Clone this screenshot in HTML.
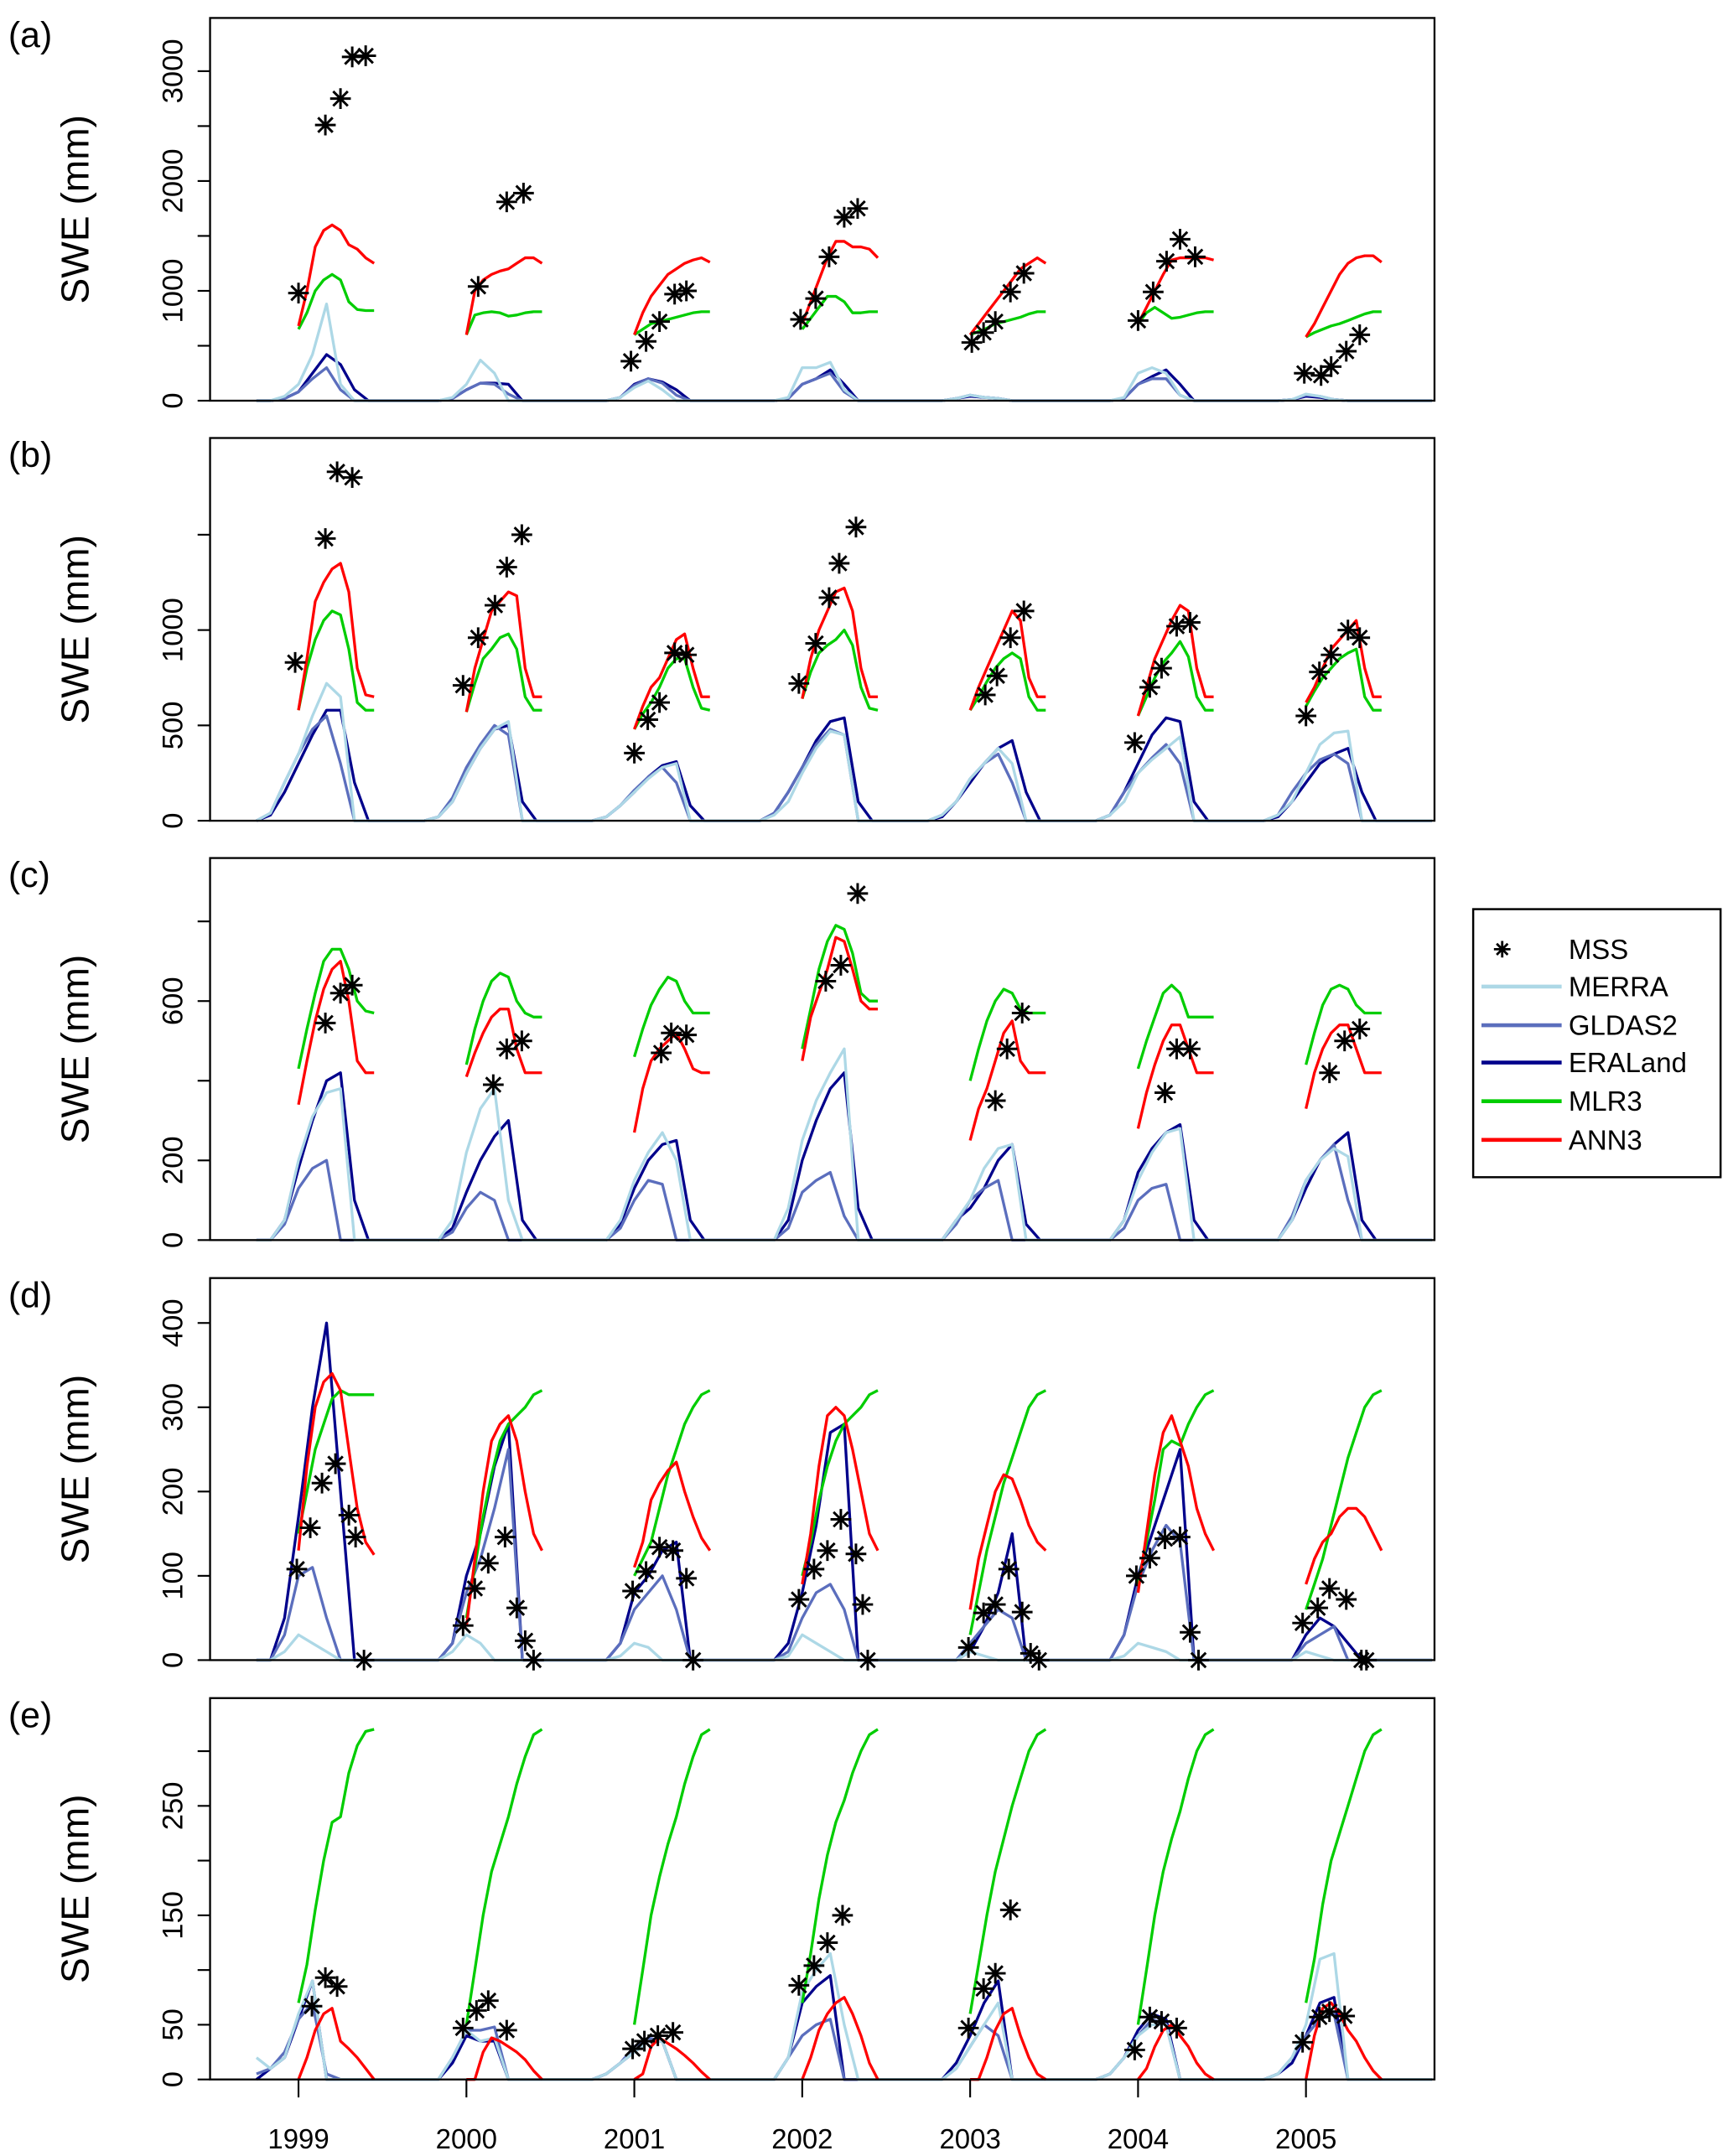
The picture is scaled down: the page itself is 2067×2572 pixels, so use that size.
<!DOCTYPE html>
<html><head><meta charset="utf-8"><style>
html,body{margin:0;padding:0;background:#fff}
svg{display:block}
text{font-family:"Liberation Sans",Arial,sans-serif;fill:#000}
</style></head><body>
<svg id="chart" width="2067" height="2572" viewBox="0 0 1254 1560.4" preserveAspectRatio="none" xmlns="http://www.w3.org/2000/svg">
<g id="legend">
<rect x="1066" y="658" width="179" height="194" fill="#fff" stroke="#000" stroke-width="1.5"/>
<g><path d="M1087,681 v12 M1081,687 h12 M1083,683 l8,8 M1091,683 l-8,8" stroke="#000" stroke-width="1.7"/><text x="1135" y="694" font-size="20">MSS</text></g>
<g><line x1="1072" y1="714" x2="1130" y2="714" stroke="#add8e6" stroke-width="2.8"/><text x="1135" y="721" font-size="20">MERRA</text></g>
<g><line x1="1072" y1="742" x2="1130" y2="742" stroke="#5b6ebd" stroke-width="2.8"/><text x="1135" y="749" font-size="20">GLDAS2</text></g>
<g><line x1="1072" y1="769" x2="1130" y2="769" stroke="#00008b" stroke-width="2.8"/><text x="1135" y="776" font-size="20">ERALand</text></g>
<g><line x1="1072" y1="797" x2="1130" y2="797" stroke="#00cd00" stroke-width="2.8"/><text x="1135" y="804" font-size="20">MLR3</text></g>
<g><line x1="1072" y1="825" x2="1130" y2="825" stroke="#ff0000" stroke-width="2.8"/><text x="1135" y="832" font-size="20">ANN3</text></g>
</g>
</svg>
<script>
// ---- x axis ----
const years = [1999,2000,2001,2002,2003,2004,2005];
const yearLabels = ["1999","2000","2001","2002","2003","2004","2005"];

// ---- panel (a) ----
const a_mss = [[1999.0,980],[1999.16,2510],[1999.25,2750],[1999.32,3130],[1999.4,3140],[2000.07,1040],[2000.24,1810],[2000.34,1890],[2000.98,360],[2001.07,540],[2001.15,720],[2001.24,970],[2001.31,1000],[2001.99,740],[2002.08,930],[2002.16,1310],[2002.25,1670],[2002.33,1750],[2003.01,530],[2003.08,620],[2003.15,720],[2003.24,990],[2003.32,1160],[2004.0,730],[2004.09,990],[2004.17,1270],[2004.25,1470],[2004.34,1310],[2004.99,250],[2005.09,230],[2005.15,310],[2005.24,450],[2005.32,600]];
const a_ann = [[680,1000,1400,1550,1600,1550,1420,1380,1300,1250],[600,1000,1100,1150,1180,1200,1250,1300,1300,1250],[600,800,950,1050,1150,1200,1250,1280,1300,1260],[700,900,1100,1300,1450,1450,1400,1400,1380,1300],[600,700,800,900,1000,1100,1200,1250,1300,1250],[700,850,1000,1150,1280,1300,1300,1300,1300,1280],[580,700,850,1000,1150,1250,1300,1320,1320,1260]];
const a_mlr = [[650,800,1000,1100,1150,1100,900,830,820,820],[600,780,800,810,800,770,780,800,810,810],[600,650,700,720,740,760,780,800,810,810],[650,750,850,950,950,900,800,800,810,810],[600,630,660,700,720,740,760,790,810,810],[700,800,850,800,750,760,780,800,810,810],[580,620,650,680,700,730,760,790,810,810]];
const a_merra = [[0,0,40,150,420,880,150,0,0,0],[0,0,30,150,370,250,0,0,0,0],[0,0,30,120,180,100,0,0,0,0],[0,0,30,300,300,350,100,0,0,0],[0,0,20,50,30,20,0,0,0,0],[0,0,30,250,300,250,50,0,0,0],[0,0,10,60,40,10,0,0,0,0]];
const a_gldas = [[0,0,20,80,200,300,100,0,0,0],[0,0,20,100,160,150,60,0,0,0],[0,0,30,140,200,160,50,0,0,0],[0,0,20,150,200,250,80,0,0,0],[0,0,20,50,30,20,0,0,0,0],[0,0,20,150,200,200,50,0,0,0],[0,0,10,50,40,10,0,0,0,0]];
const a_era = [[0,0,20,80,250,420,330,100,0,0],[0,0,20,100,160,160,150,0,0,0],[0,0,30,150,200,170,100,0,0,0],[0,0,20,150,200,280,150,0,0,0],[0,0,20,40,30,20,0,0,0,0],[0,0,20,150,220,280,150,0,0,0],[0,0,10,40,30,10,0,0,0,0]];

// ---- panel (b) ----
const b_mss = [[1998.98,830],[1999.16,1480],[1999.23,1830],[1999.32,1800],[1999.98,710],[2000.07,960],[2000.17,1130],[2000.24,1330],[2000.33,1500],[2001.0,355],[2001.08,530],[2001.15,620],[2001.24,880],[2001.31,870],[2001.98,720],[2002.08,930],[2002.16,1170],[2002.22,1350],[2002.32,1540],[2003.09,660],[2003.16,760],[2003.24,960],[2003.32,1100],[2003.98,410],[2004.07,700],[2004.14,800],[2004.23,1020],[2004.31,1040],[2005.0,550],[2005.08,780],[2005.15,870],[2005.25,1000],[2005.32,960]];
const b_ann = [[580,850,1150,1250,1320,1350,1200,800,660,650],[570,800,950,1100,1150,1200,1180,800,650,650],[480,600,700,750,850,950,980,800,650,650],[640,850,1000,1100,1200,1220,1100,800,650,650],[580,700,800,900,1000,1100,1050,750,650,650],[550,700,850,950,1050,1130,1100,800,650,650],[620,700,800,900,950,1000,1050,800,650,650]];
const b_mlr = [[580,800,950,1050,1100,1080,900,620,580,580],[570,720,850,900,960,980,900,650,580,580],[480,560,620,700,800,850,850,700,590,580],[640,780,880,920,950,1000,920,700,590,580],[580,650,730,800,850,880,850,650,580,580],[550,650,750,830,880,940,860,650,580,580],[600,680,750,800,850,880,900,650,580,580]];
const b_merra = [[0,40,200,350,550,720,650,0,0,0],[0,20,100,250,380,480,520,0,0,0],[0,20,80,150,220,280,300,0,0,0],[0,30,100,250,380,470,450,0,0,0],[0,30,100,220,300,380,300,0,0,0],[0,30,100,250,320,380,440,0,0,0],[0,30,100,250,400,460,470,0,0,0]];
const b_gldas = [[0,40,200,350,480,550,300,0,0,0],[0,20,120,280,400,500,450,0,0,0],[0,20,80,160,230,280,200,0,0,0],[0,40,150,280,400,480,450,0,0,0],[0,30,100,220,300,350,200,0,0,0],[0,30,150,250,330,400,300,0,0,0],[0,30,150,250,320,350,300,0,0,0]];
const b_era = [[0,30,150,300,450,580,580,200,0,0],[0,20,100,250,380,480,500,100,0,0],[0,20,80,150,230,290,310,80,0,0],[0,40,150,280,420,520,540,100,0,0],[0,20,100,200,300,380,420,150,0,0],[0,30,150,300,450,540,520,100,0,0],[0,20,100,200,300,350,380,150,0,0]];

// ---- panel (c) ----
const c_mss = [[1999.16,545],[1999.25,620],[1999.32,640],[2000.16,390],[2000.24,480],[2000.33,500],[2001.16,470],[2001.22,520],[2001.31,515],[2002.14,650],[2002.23,690],[2002.33,870],[2003.15,350],[2003.22,480],[2003.31,570],[2004.16,370],[2004.23,480],[2004.31,480],[2005.14,420],[2005.23,500],[2005.32,530]];
const c_ann = [[340,450,550,630,680,700,600,450,420,420],[410,470,520,560,580,580,480,420,420,420],[270,380,450,480,500,520,480,430,420,420],[450,560,620,680,760,750,680,600,580,580],[250,330,380,450,520,550,450,420,420,420],[280,370,440,500,540,540,480,420,420,420],[330,420,480,520,540,540,480,420,420,420]];
const c_mlr = [[430,530,620,700,730,730,680,600,575,570],[440,530,600,650,670,660,600,570,560,560],[460,530,590,630,660,650,600,570,570,570],[480,580,680,750,790,780,720,620,600,600],[400,480,550,600,630,620,580,570,570,570],[430,500,560,620,640,620,560,560,560,560],[440,520,590,630,640,630,590,570,570,570]];
const c_merra = [[0,0,50,200,310,370,380,0,0,0],[0,0,50,220,330,380,100,0,0,0],[0,0,50,150,220,270,200,0,0,0],[0,0,80,250,350,420,480,0,0,0],[0,0,50,100,180,230,240,0,0,0],[0,0,50,150,220,270,280,0,0,0],[0,0,50,150,200,230,210,0,0,0]];
const c_gldas = [[0,0,40,130,180,200,0,0,0,0],[0,0,20,80,120,100,0,0,0,0],[0,0,30,100,150,140,0,0,0,0],[0,0,30,120,150,170,60,0,0,0],[0,0,40,100,130,150,0,0,0,0],[0,0,30,100,130,140,0,0,0,0],[0,0,60,150,200,240,100,0,0,0]];
const c_era = [[0,0,50,180,300,400,420,100,0,0],[0,0,30,120,200,260,300,50,0,0],[0,0,40,130,200,240,250,50,0,0],[0,0,50,200,300,380,420,80,0,0],[0,0,50,80,130,200,240,40,0,0],[0,0,50,170,230,270,290,50,0,0],[0,0,50,130,200,240,270,50,0,0]];

// ---- panel (d) ----
const d_mss = [[1998.99,108],[1999.07,157],[1999.14,210],[1999.22,233],[1999.3,172],[1999.34,146],[1999.39,0],[1999.98,41],[2000.05,85],[2000.13,115],[2000.23,146],[2000.3,62],[2000.35,23],[2000.4,0],[2000.99,82],[2001.07,105],[2001.15,134],[2001.23,130],[2001.31,97],[2001.35,0],[2001.98,72],[2002.07,108],[2002.15,130],[2002.23,167],[2002.32,126],[2002.36,66],[2002.39,0],[2002.99,15],[2003.08,56],[2003.15,66],[2003.23,108],[2003.31,57],[2003.36,8],[2003.41,0],[2003.99,100],[2004.07,121],[2004.16,144],[2004.25,146],[2004.31,33],[2004.36,0],[2004.98,44],[2005.07,62],[2005.14,85],[2005.24,72],[2005.33,0],[2005.36,0]];
const d_ann = [[130,230,300,330,340,320,250,180,140,125],[40,120,200,260,280,290,260,200,150,130],[110,140,190,210,225,235,200,170,145,130],[90,150,230,290,300,290,250,200,150,130],[60,120,160,200,220,215,190,160,140,130],[80,150,220,270,290,260,230,180,150,130],[90,120,140,150,170,180,180,170,150,130]];
const d_mlr = [[150,200,250,280,310,320,315,315,315,315],[50,110,170,220,260,280,290,300,315,320],[100,120,140,180,220,250,280,300,315,320],[100,140,190,230,260,280,290,300,315,320],[30,80,130,170,210,240,270,300,315,320],[90,140,190,250,260,255,280,300,315,320],[60,90,120,160,200,240,270,300,315,320]];
const d_merra = [[0,0,10,30,20,10,0,0,0,0],[0,0,10,30,20,0,0,0,0,0],[0,0,5,20,15,0,0,0,0,0],[0,0,5,30,20,10,0,0,0,0],[0,0,0,10,5,0,0,0,0,0],[0,0,5,20,15,10,0,0,0,0],[0,0,0,10,5,0,0,0,0,0]];
const d_gldas = [[0,0,30,100,110,50,0,0,0,0],[0,0,20,80,120,180,250,0,0,0],[0,0,20,60,80,100,60,0,0,0],[0,0,10,50,80,90,60,0,0,0],[0,0,0,20,40,60,50,0,0,0],[0,0,30,90,130,160,140,0,0,0],[0,0,0,20,30,40,0,0,0,0]];
const d_era = [[0,0,50,170,300,400,200,0,0,0],[0,0,20,100,150,230,280,0,0,0],[0,0,20,80,100,130,140,0,0,0],[0,0,20,80,160,270,280,0,0,0],[0,0,0,10,40,80,150,0,0,0],[0,0,30,100,150,200,250,0,0,0],[0,0,0,30,50,40,20,0,0,0]];

// ---- panel (e) ----
const e_mss = [[1999.08,67],[1999.16,93],[1999.23,85],[1999.98,47],[2000.06,63],[2000.13,72],[2000.24,45],[2000.99,28],[2001.06,35],[2001.14,40],[2001.23,43],[2001.98,86],[2002.07,104],[2002.15,125],[2002.24,150],[2002.99,47],[2003.08,83],[2003.15,97],[2003.24,155],[2003.98,27],[2004.07,57],[2004.14,53],[2004.23,47],[2004.98,34],[2005.08,57],[2005.14,62],[2005.23,58]];
const e_ann = [[0,20,45,60,65,35,28,20,10,0],[0,0,25,38,35,30,25,18,8,0],[0,5,30,38,33,28,22,15,7,0],[0,20,45,60,70,75,60,40,15,0],[0,0,20,45,60,65,40,20,5,0],[0,10,30,45,50,40,30,15,5,0],[0,40,65,70,60,45,35,20,8,0]];
const e_mlr = [[70,105,155,200,235,240,280,305,318,320],[50,100,150,190,215,240,270,295,315,320],[50,100,150,185,215,240,270,295,315,320],[70,115,165,205,235,255,280,300,315,320],[60,105,150,190,220,250,275,300,315,320],[50,100,150,190,220,245,275,300,315,320],[70,110,160,200,225,250,275,300,315,320]];
const e_merra = [[20,10,20,60,90,0,0,0,0,0],[0,0,20,45,35,38,0,0,0,0],[0,5,15,25,35,35,0,0,0,0],[0,0,20,80,100,115,50,0,0,0],[0,0,10,30,50,70,0,0,0,0],[0,5,20,40,50,50,0,0,0,0],[0,5,20,50,110,115,0,0,0,0]];
const e_gldas = [[5,10,25,55,70,5,0,0,0,0],[0,0,20,45,45,48,0,0,0,0],[0,5,15,30,38,35,0,0,0,0],[0,0,20,40,50,55,0,0,0,0],[0,0,10,30,50,40,0,0,0,0],[0,5,20,40,55,50,0,0,0,0],[0,5,20,40,55,60,0,0,0,0]];
const e_era = [[0,10,20,55,90,0,0,0,0,0],[0,0,15,40,35,35,0,0,0,0],[0,5,15,25,35,35,0,0,0,0],[0,0,20,70,85,95,0,0,0,0],[0,0,15,40,70,90,0,0,0,0],[0,5,20,45,60,55,0,0,0,0],[0,5,15,40,70,75,0,0,0,0]];

// ---- tick values ----
const a_ticks = [0,500,1000,1500,2000,2500,3000];
const a_tickLabels = ["0","","1000","","2000","","3000"];
const b_ticks = [0,500,1000,1500];
const b_tickLabels = ["0","500","1000",""];
const c_ticks = [0,200,400,600,800];
const c_tickLabels = ["0","200","","600",""];
const d_ticks = [0,100,200,300,400];
const d_tickLabels = ["0","100","200","300","400"];
const e_ticks = [0,50,100,150,200,250,300];
const e_tickLabels = ["0","50","","150","","250",""];

const NS = "http://www.w3.org/2000/svg";
const svg = document.getElementById('chart');
const X0 = 152, X1 = 1038;
function xScale(t){ return 216 + (t - 1999) * 121.5; }

const panels = [
 {id:'a', top:13, zero:290, k:0.0795, mss:a_mss, ann:a_ann, mlr:a_mlr, merra:a_merra, gldas:a_gldas, era:a_era, ticks:a_ticks, labels:a_tickLabels},
 {id:'b', top:317, zero:594, k:0.138, mss:b_mss, ann:b_ann, mlr:b_mlr, merra:b_merra, gldas:b_gldas, era:b_era, ticks:b_ticks, labels:b_tickLabels},
 {id:'c', top:621, zero:897.5, k:0.2883, mss:c_mss, ann:c_ann, mlr:c_mlr, merra:c_merra, gldas:c_gldas, era:c_era, ticks:c_ticks, labels:c_tickLabels},
 {id:'d', top:925, zero:1201.5, k:0.61, mss:d_mss, ann:d_ann, mlr:d_mlr, merra:d_merra, gldas:d_gldas, era:d_era, ticks:d_ticks, labels:d_tickLabels},
 {id:'e', top:1229, zero:1505, k:0.792, mss:e_mss, ann:e_ann, mlr:e_mlr, merra:e_merra, gldas:e_gldas, era:e_era, ticks:e_ticks, labels:e_tickLabels}
];

function mk(tag, attrs, parent){
  const el = document.createElementNS(NS, tag);
  for (const k in attrs) el.setAttribute(k, attrs[k]);
  parent.appendChild(el);
  return el;
}

const legend = document.getElementById('legend');

panels.forEach(p => {
  const yS = v => p.zero - v * p.k;
  const g = mk('g', {}, svg);
  
  

  const rea = [['era', p.era, '#00008b'], ['gldas2', p.gldas, '#5b6ebd'], ['merra', p.merra, '#add8e6']];
  rea.forEach(([name, seasons, col]) => {
    const pts = [];
    for (let kk = 0; kk <= 84; kk++) {
      const s = Math.floor(kk / 12), m = kk % 12;
      const v = (s < seasons.length && m < 10) ? seasons[s][m] : 0;
      const t = 1998.75 + kk / 12;
      pts.push(xScale(t).toFixed(1) + ',' + yS(v).toFixed(1));
    }
    const pl = mk('polyline', {points: pts.join(' '), fill:'none', stroke:col, 'stroke-width':2.0, 'stroke-linejoin':'round'}, g);
    
    
  });

  [['mlr3', p.mlr, '#00cd00'], ['ann3', p.ann, '#ff0000']].forEach(([name, seasons, col]) => {
    seasons.forEach((vals, s) => {
      const pts = vals.map((v, i) => xScale(years[s] + i * 0.05).toFixed(1) + ',' + yS(v).toFixed(1));
      const pl = mk('polyline', {points: pts.join(' '), fill:'none', stroke:col, 'stroke-width':2.0, 'stroke-linejoin':'round'}, g);
      
      
    });
  });

  p.mss.forEach(([t, v]) => {
    const x = xScale(t), y = yS(v), r = 7.5, d = 5.3;
    const st = mk('path', {d:`M${x},${y-r}V${y+r}M${x-r},${y}H${x+r}M${x-d},${y-d}L${x+d},${y+d}M${x+d},${y-d}L${x-d},${y+d}`, stroke:'#000', 'stroke-width':1.8, fill:'none'}, g);
    
    
  });

  const fr = mk('rect', {x:X0, y:p.top, width:X1-X0, height:p.zero-p.top, fill:'none', stroke:'#000', 'stroke-width':1.4}, g);
  
  

  p.ticks.forEach((v, i) => {
    const y = yS(v);
    const tk = mk('line', {x1:143, y1:y, x2:X0, y2:y, stroke:'#000', 'stroke-width':1.3}, g);
    
    
    if (p.labels[i]) {
      const tx = mk('text', {x:0, y:0, 'font-size':21, 'text-anchor':'middle', transform:`translate(132,${y}) rotate(-90)`}, g);
      tx.textContent = p.labels[i];
      
      
    }
  });

  const yt = mk('text', {x:0, y:0, 'font-size':28, 'text-anchor':'middle', transform:`translate(64,${(p.top+p.zero)/2}) rotate(-90)`}, g);
  yt.textContent = 'SWE (mm)';
  
  

  const pl = mk('text', {x:6, y:p.top + 21, 'font-size':26}, g);
  pl.textContent = '(' + p.id + ')';
  
  
});

years.forEach((yr, i) => {
  const x = xScale(yr);
  const tk = mk('line', {x1:x, y1:1505, x2:x, y2:1518, stroke:'#000', 'stroke-width':1.3}, svg);
  
  
  const tx = mk('text', {x:x, y:1555, 'font-size':20, 'text-anchor':'middle'}, svg);
  tx.textContent = yearLabels[i];
  
  
});
svg.appendChild(legend);
</script>
</body></html>
